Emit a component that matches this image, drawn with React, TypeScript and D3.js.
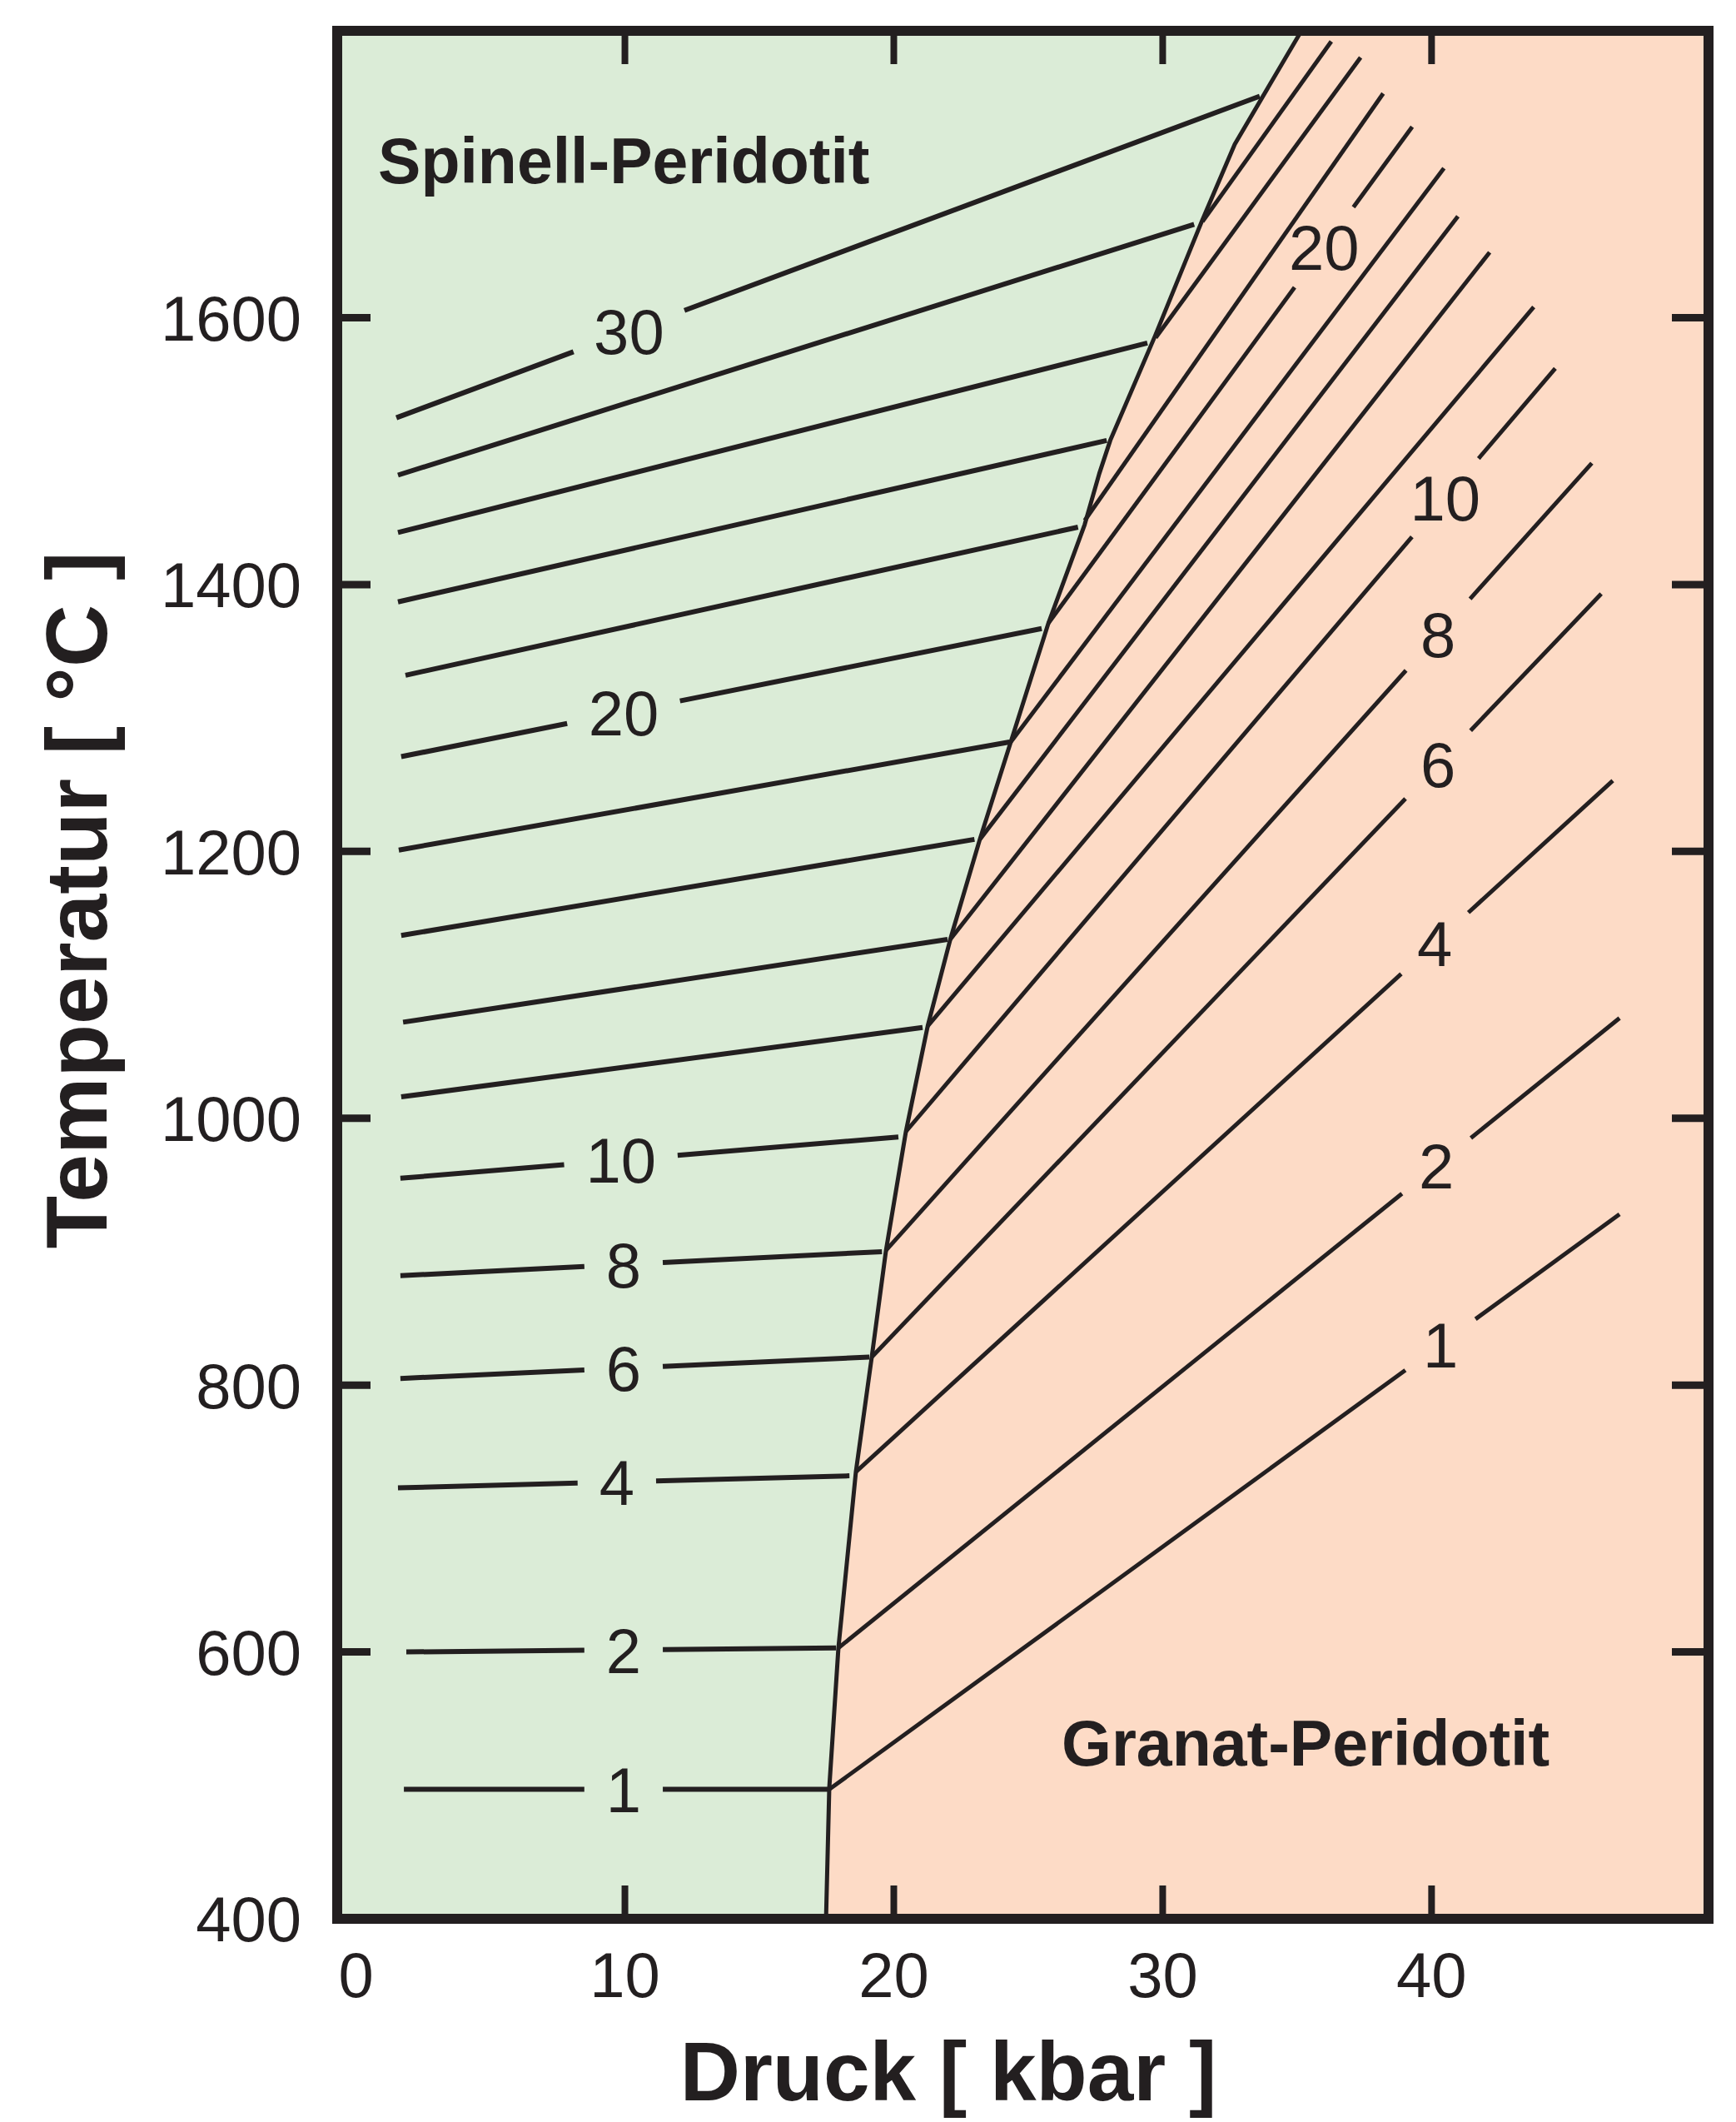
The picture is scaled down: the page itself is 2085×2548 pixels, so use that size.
import React, { useEffect } from 'react'
import { scaleLinear, line } from 'd3'

const W = 2085
const H = 2548
const INK = '#231f20'
const GREEN = '#dbecd7'
const PEACH = '#fddbc6'
const FONT = "'Liberation Sans', Arial, Helvetica, sans-serif"

// Spinell/Granat boundary, P in kbar, T in °C
const boundaryP = [17.48, 17.6, 17.94, 18.59, 19.18, 19.71, 20.45, 21.26, 22.1, 23.2, 24.35, 25.75, 27.1, 27.64, 28.05, 29.71, 31.45, 32.68, 35.16]
const boundaryT = [400, 498, 603, 735, 821, 901, 990, 1069, 1134, 1209, 1282, 1371, 1445, 1483, 1508, 1586, 1672, 1730, 1815]

// isolines in the spinel field: [P,T] at left end and at the boundary
const spinelValues = [1, 2, 4, 6, 8, 10, 12, 14, 16, 18, 20, 22, 24, 26, 28, 30]
const spinelStart = [[1.78, 497], [1.87, 600], [1.56, 723], [1.65, 805], [1.65, 882], [1.65, 955], [1.68, 1016], [1.75, 1072], [1.68, 1137], [1.59, 1201], [1.68, 1271], [1.84, 1332], [1.56, 1387], [1.56, 1439], [1.56, 1482], [1.5, 1525]]
const spinelEnd = [[17.6, 497], [17.85, 603], [18.35, 732], [19.09, 821], [19.56, 900], [20.17, 986], [21.07, 1068], [22.0, 1134], [23.0, 1209], [24.3, 1282], [25.5, 1367], [26.85, 1443], [27.92, 1508], [29.43, 1581], [31.17, 1670], [33.61, 1766]]
const spinelLabelP = [9.95, 9.95, 9.7, 9.95, 9.95, 9.85, null, null, null, null, 9.95, null, null, null, null, 10.15]

// isolines in the garnet field: [P,T] at the boundary and at the upper end
const garnetValues = [1, 2, 4, 6, 8, 10, 12, 14, 16, 18, 20, 22, 24, 26]
const garnetStart = [[17.6, 497], [17.94, 603], [18.59, 735], [19.18, 821], [19.71, 901], [20.45, 990], [21.26, 1069], [22.1, 1134], [23.2, 1209], [24.35, 1282], [25.75, 1371], [27.1, 1448], [29.74, 1585], [31.48, 1672]]
const garnetEnd = [[46.99, 928], [46.99, 1075], [46.74, 1253], [46.31, 1393], [45.96, 1491], [44.6, 1562], [43.8, 1608], [42.16, 1649], [40.98, 1676], [40.46, 1712], [39.28, 1743], [38.2, 1768], [37.36, 1795], [36.27, 1807]]
const garnetLabelP = [40.33, 40.18, 40.12, 40.24, 40.24, 40.51, null, null, null, null, 36.0, null, null, null]

const xTickValues = [0, 10, 20, 30, 40]
const yTickValues = [400, 600, 800, 1000, 1200, 1400, 1600]

// field names: [P, T] of text start (baseline)
const fieldNames = ['Spinell-Peridotit', 'Granat-Peridotit']
const fieldPos = [[0.82, 1701], [26.24, 515]]

const x = scaleLinear().domain([-0.7, 50.3]).range([405, 2052])
const y = scaleLinear().domain([400, 1815]).range([2304, 37])

const LABEL_FS = 76
const PAD = 26

function Isoline({ p0, t0, p1, t1, label, labelP, sw }) {
  const X0 = x(p0), Y0 = y(t0), X1 = x(p1), Y1 = y(t1)
  if (labelP == null) {
    return <line x1={X0} y1={Y0} x2={X1} y2={Y1} stroke={INK} strokeWidth={sw} />
  }
  const f = (labelP - p0) / (p1 - p0)
  const LX = X0 + f * (X1 - X0)
  const LY = Y0 + f * (Y1 - Y0)
  const len = Math.hypot(X1 - X0, Y1 - Y0)
  const ux = (X1 - X0) / len
  const uy = (Y1 - Y0) / len
  const w = String(label).length * 0.556 * LABEL_FS
  const h = 0.716 * LABEL_FS
  const c = Math.abs(ux), s = Math.abs(uy)
  const half = Math.min(c > 1e-6 ? w / 2 / c : Infinity, s > 1e-6 ? h / 2 / s : Infinity) + PAD
  return (
    <g>
      <line x1={X0} y1={Y0} x2={LX - ux * half} y2={LY - uy * half} stroke={INK} strokeWidth={sw} />
      <line x1={LX + ux * half} y1={LY + uy * half} x2={X1} y2={Y1} stroke={INK} strokeWidth={sw} />
      <text x={LX} y={LY} dy="0.36em" textAnchor="middle" fontSize={LABEL_FS} fill={INK} fontFamily={FONT}>{label}</text>
    </g>
  )
}

const App = () => {
  useEffect(() => {
    document.body.style.margin = '0'
  }, [])

  const x0 = x.domain()[0], x1 = x.domain()[1]
  const y0 = y.domain()[0], y1 = y.domain()[1]

  const boundary = boundaryP.map((p, i) => [p, boundaryT[i]])
  const path = line().x(d => x(d[0])).y(d => y(d[1]))
  const greenPoly = [[x0, y0], ...boundary, [x0, y1]]

  const tickLen = 40
  return (
    <svg width={W} height={H} viewBox={`0 0 ${W} ${H}`} style={{ display: 'block', background: '#fff' }}>
      <rect x={x(x0)} y={y(y1)} width={x(x1) - x(x0)} height={y(y0) - y(y1)} fill={PEACH} />
      <path d={path(greenPoly) + 'Z'} fill={GREEN} />

      {spinelValues.map((v, i) => (
        <Isoline key={'s' + v} p0={spinelStart[i][0]} t0={spinelStart[i][1]} p1={spinelEnd[i][0]} t1={spinelEnd[i][1]}
          label={v} labelP={spinelLabelP[i]} sw={6} />
      ))}
      {garnetValues.map((v, i) => (
        <Isoline key={'g' + v} p0={garnetStart[i][0]} t0={garnetStart[i][1]} p1={garnetEnd[i][0]} t1={garnetEnd[i][1]}
          label={v} labelP={garnetLabelP[i]} sw={5} />
      ))}

      <path d={path(boundary)} fill="none" stroke={INK} strokeWidth={5} strokeLinejoin="round" />

      {fieldNames.map((n, i) => (
        <text key={n} x={x(fieldPos[i][0])} y={y(fieldPos[i][1])} fontSize={77} fontWeight="bold" fill={INK} fontFamily={FONT}>{n}</text>
      ))}

      {/* ticks */}
      {xTickValues.filter(v => v > 0).map(v => (
        <g key={'xt' + v}>
          <line x1={x(v)} x2={x(v)} y1={y(y0)} y2={y(y0) - tickLen} stroke={INK} strokeWidth={8} />
          <line x1={x(v)} x2={x(v)} y1={y(y1)} y2={y(y1) + tickLen} stroke={INK} strokeWidth={8} />
        </g>
      ))}
      {yTickValues.filter(v => v > 400).map(v => (
        <g key={'yt' + v}>
          <line x1={x(x0)} x2={x(x0) + tickLen} y1={y(v)} y2={y(v)} stroke={INK} strokeWidth={9} />
          <line x1={x(x1)} x2={x(x1) - tickLen - 4} y1={y(v)} y2={y(v)} stroke={INK} strokeWidth={9} />
        </g>
      ))}
      <rect x={x(x0)} y={y(y1)} width={x(x1) - x(x0)} height={y(y0) - y(y1)} fill="none" stroke={INK} strokeWidth={12} />

      {xTickValues.map(v => (
        <text key={'xl' + v} x={x(v)} y={2398} textAnchor="middle" fontSize={76} fill={INK} fontFamily={FONT}>{v}</text>
      ))}
      {yTickValues.map(v => (
        <text key={'yl' + v} x={362} y={y(v)} dy="0.36em" textAnchor="end" fontSize={76} fill={INK} fontFamily={FONT}>{v}</text>
      ))}

      <text x={1139} y={2522} textAnchor="middle" fontSize={100} fontWeight="bold" fill={INK} fontFamily={FONT}>Druck [ kbar ]</text>
      <text transform="translate(128,1081) rotate(-90)" textAnchor="middle" fontSize={104} fontWeight="bold" fill={INK} fontFamily={FONT}>Temperatur [ °C ]</text>
    </svg>
  )
}

export default App
